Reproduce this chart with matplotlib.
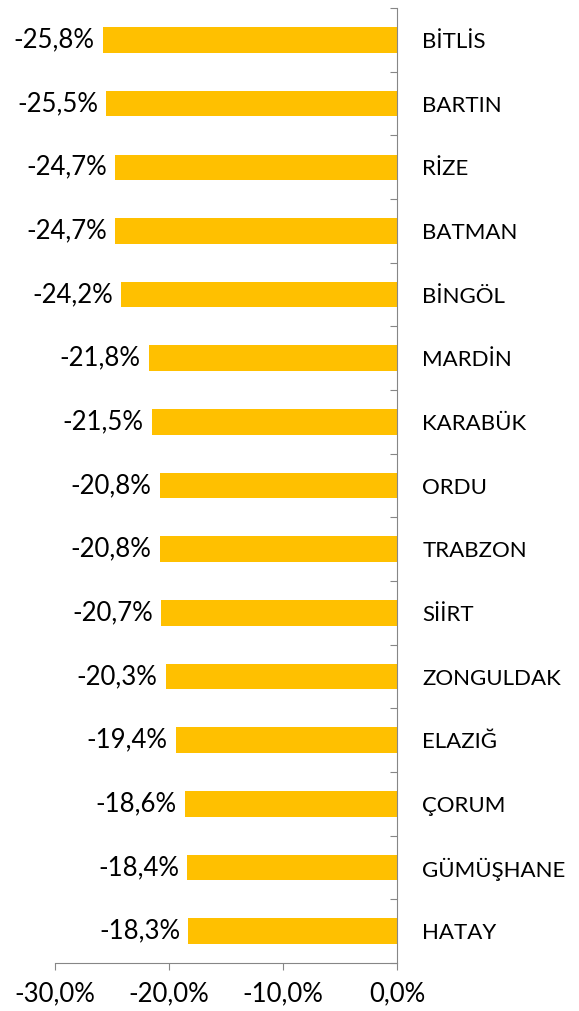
import matplotlib.pyplot as plt
import numpy as np

# provinces and change values (%)
provinces = ['BİTLİS', 'BARTIN', 'RİZE', 'BATMAN', 'BİNGÖL', 'MARDİN', 'KARABÜK',
             'ORDU', 'TRABZON', 'SİİRT', 'ZONGULDAK', 'ELAZIĞ', 'ÇORUM',
             'GÜMÜŞHANE', 'HATAY']
values = [-25.8, -25.5, -24.7, -24.7, -24.2, -21.8, -21.5,
          -20.8, -20.8, -20.7, -20.3, -19.4, -18.6, -18.4, -18.3]
xticks = [-30, -20, -10, 0]

plt.rcParams['font.family'] = ['Lato', 'DejaVu Sans']
fs_num = 18.5
fs_name = 16

fig = plt.figure(figsize=(5.79, 10.11), dpi=100)
ax = fig.add_axes([0.095, 0.0475, 0.591, 0.9445])

y = np.arange(len(provinces))
ax.barh(y, values, height=0.4, color='#FFC000')

# value labels left of each bar
for yi, v in zip(y, values):
    ax.annotate(f'{v:.1f}%'.replace('.', ','), xy=(v, yi), xytext=(-6, 0),
                textcoords='offset points', ha='right', va='center', fontsize=fs_num)

ax.set_xlim(-30, 0)
ax.set_ylim(len(provinces) - 0.5, -0.5)

# x axis
ax.set_xticks(xticks)
ax.set_xticklabels([f'{t:.1f}%'.replace('.', ',') for t in xticks], fontsize=fs_num)
ax.tick_params(axis='x', direction='out', length=5, color='#868686', pad=8)

# y axis on the right (x = 0), ticks between categories, names to the right
ax.yaxis.tick_right()
ax.set_yticks(np.arange(len(provinces) + 1) - 0.5)
ax.set_yticklabels([])
ax.set_yticks(y, minor=True)
ax.set_yticklabels(provinces, minor=True, fontsize=fs_name)
ax.tick_params(axis='y', which='major', direction='in', length=5, color='#868686')
ax.tick_params(axis='y', which='minor', length=0, pad=18)

for s in ['top', 'left']:
    ax.spines[s].set_visible(False)
for s in ['bottom', 'right']:
    ax.spines[s].set_color('#868686')

plt.savefig('out.png', dpi=100)
